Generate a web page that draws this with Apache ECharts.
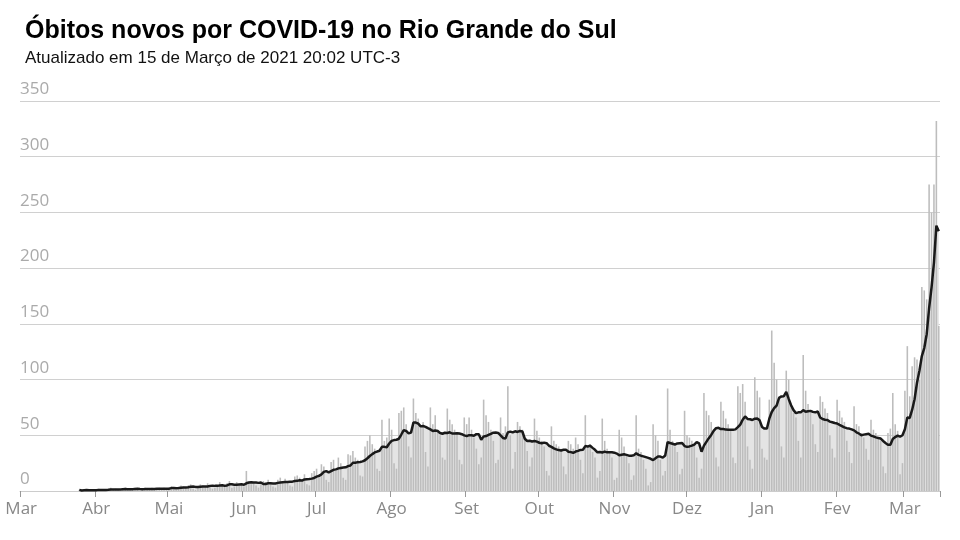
<!DOCTYPE html>
<html><head><meta charset="utf-8">
<script src="https://cdn.jsdelivr.net/npm/echarts@6/dist/echarts.min.js"></script>
<style>html,body{margin:0;padding:0;background:#fff}#c{width:960px;height:540px}</style>
</head><body><div id="c"></div>
<script>
const monthLabels = ['Jan','Fev','Mar','Abr','Mai','Jun','Jul','Ago','Set','Out','Nov','Dez'];
const yTicks = [0,50,100,150,200,250,300,350];
const mar20 = [1,0,1,1,0,1,1];
const apr20 = [1,2,1,0,1,2,3,1,2,1,0,2,3,2,1,2,3,1,0,2,3,2,2,3,1,1,3,2,3,2];
const may20 = [3,4,2,1,3,5,4,3,5,6,2,1,4,6,5,4,7,5,2,3,6,8,5,4,7,9,3,4,8,6,5];
const jun20 = [4,18,8,6,7,5,3,6,9,8,10,7,4,3,10,12,9,11,8,5,4,13,14,12,10,15,6,5,16,18];
const jul20 = [20,15,24,22,10,8,26,28,18,30,25,12,10,33,32,36,30,28,14,13,40,45,50,42,38,20,18,64,45,48,65];
const aug20 = [55,25,20,70,72,75,60,40,30,83,70,65,58,62,35,22,75,60,68,55,50,30,28,74,64,60,55,52,28,24,66];
const sep20 = [60,66,55,48,38,24,30,82,68,62,55,45,25,28,66,52,58,94,50,20,35,62,58,55,48,36,22,30,65,54];
const oct20 = [48,45,40,18,14,58,45,42,40,38,22,15,45,42,38,48,42,28,16,68,40,42,35,30,12,18,65,45,38,35,30];
const nov20 = [10,12,55,48,40,32,25,10,14,68,38,35,28,20,5,8,60,50,45,28,14,18,92,55,45,40,35,15,20,72];
const dec20 = [50,48,45,42,30,12,20,88,72,68,62,55,30,22,80,72,65,60,55,30,25,94,88,96,80,40,28,20,102,90,84];
const jan21 = [38,30,28,82,144,115,100,85,40,30,108,100,75,70,66,45,30,122,90,78,72,60,42,35,85,80,74,70,50,38,30];
const feb21 = [82,72,66,62,45,35,25,76,60,58,52,48,38,28,64,55,52,48,45,22,16,52,56,88,60,54,15,25];
const mar21 = [90,130,85,112,120,118,100,183,180,172,275,250,275,332,148];

const daily = [].concat(mar20,apr20,may20,jun20,jul20,aug20,sep20,oct20,nov20,dec20,jan21,feb21,mar21);
// categories: 2020-03-01 .. 2021-03-15
const cats = [];
const d0 = new Date(Date.UTC(2020,2,1)), d1 = new Date(Date.UTC(2021,2,15));
for (let d = new Date(d0); d <= d1; d.setUTCDate(d.getUTCDate()+1)) cats.push(d.toISOString().slice(0,10));
const lead = cats.length - daily.length;
const bars = Array(lead).fill(null).concat(daily);
const avg = bars.map((v,i)=>{
  if (v===null) return null;
  const s = daily.slice(Math.max(0,i-lead-6), i-lead+1);
  return +(s.reduce((a,b)=>a+b,0)/s.length).toFixed(1);
});
const isMonthStart = (i)=>cats[i].slice(8)==='01';

const chart = echarts.init(document.getElementById('c'));
chart.setOption({
  animation:false,
  title:{text:'Óbitos novos por COVID-19 no Rio Grande do Sul',
    subtext:'Atualizado em 15 de Março de 2021 20:02 UTC-3',
    left:20, top:14, itemGap:6,
    textStyle:{fontFamily:'Liberation Sans',fontWeight:'bold',fontSize:25,color:'#000'},
    subtextStyle:{fontFamily:'Liberation Sans',fontSize:17,color:'#111'}},
  grid:{left:20,right:20,top:101,bottom:49},
  xAxis:{type:'category',data:cats,boundaryGap:true,
    axisLine:{show:true,lineStyle:{color:'#ccc'}},
    axisTick:{show:true,interval:isMonthStart,length:6,lineStyle:{color:'#999'}},
    axisLabel:{interval:isMonthStart,formatter:v=>monthLabels[+v.slice(5,7)-1],
      color:'#888',fontSize:17,fontFamily:'Open Sans',margin:10}},
  yAxis:{type:'value',min:0,max:350,interval:50,
    axisLabel:{inside:true,verticalAlign:'bottom',color:'#aaa',fontSize:17,fontFamily:'Open Sans',margin:0,padding:[0,0,3,0],
      formatter:v=>yTicks.includes(v)?String(v):''},
    splitLine:{lineStyle:{color:'#d0d0d0'}},axisLine:{show:false},axisTick:{show:false}},
  series:[
    {type:'line',data:avg,symbol:'none',z:1,lineStyle:{width:0},areaStyle:{color:'#e4e4e4',opacity:1}},
    {type:'bar',data:bars,barCategoryGap:'35%',itemStyle:{color:'#bdbdbd'},z:2},
    {type:'line',data:avg,symbol:'none',z:3,lineStyle:{color:'#1a1a1a',width:2.5}}
  ]
});
</script></body></html>
